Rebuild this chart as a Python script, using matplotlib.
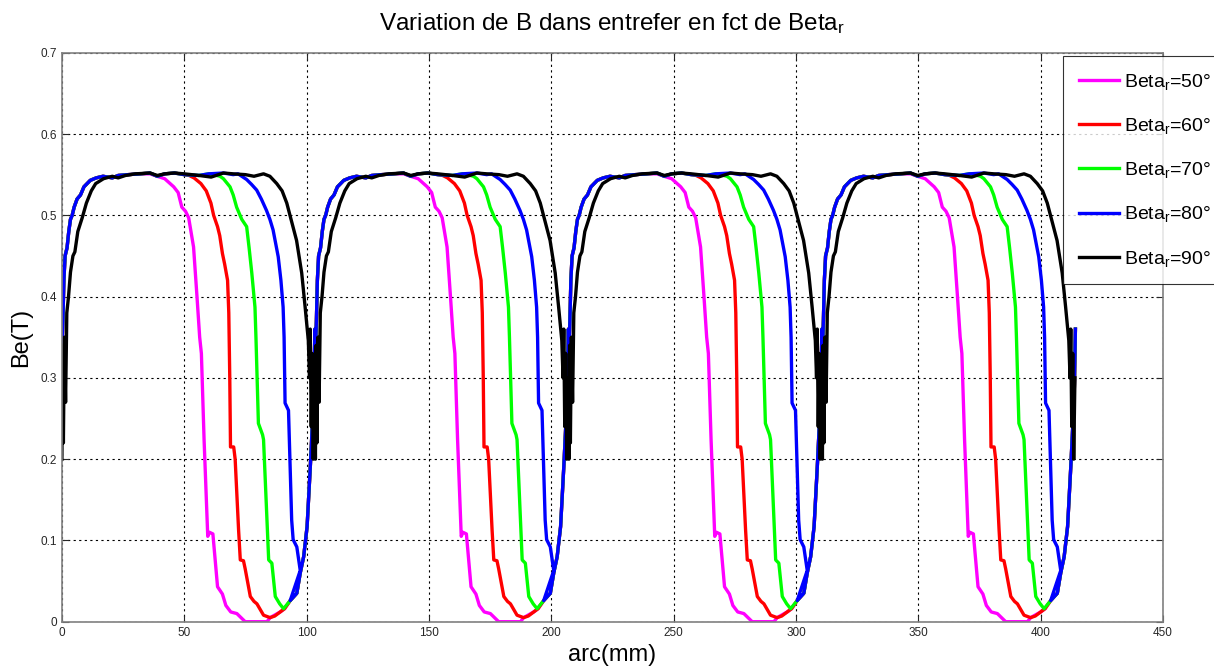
import numpy as np
import matplotlib
matplotlib.use('Agg')
import matplotlib.pyplot as plt

plt.rcParams['font.family'] = ['Liberation Sans', 'DejaVu Sans']
plt.rcParams['mathtext.fontset'] = 'custom'
plt.rcParams['mathtext.rm'] = 'Liberation Sans'
plt.rcParams['mathtext.it'] = 'Liberation Sans:italic'

# one pole pitch (mm); the 4 poles repeat the same profile
pitch = 103.6
n_poles = 4

# profiles over one pole pitch: position in pitch (mm) -> B (T)
rise_t = [0.0, 0.4, 0.8, 1.3, 2.1, 2.8, 3.5, 4.2, 5.0, 6.2, 7.6, 9.0, 11.6, 14.0,
          16.8, 20.6, 23.0, 27.0, 32.0]
rise_b = [0.33, 0.37, 0.42, 0.45, 0.46, 0.48, 0.495, 0.50, 0.51, 0.52, 0.525, 0.535,
          0.543, 0.546, 0.548, 0.546, 0.549, 0.550, 0.551]

tail_t = [93.3, 96.0, 97.4, 98.8, 100.2, 101.5, 102.9, 103.4]
tail_b = [0.026, 0.035, 0.060, 0.080, 0.117, 0.190, 0.277, 0.36]

b50_t = [36.0, 38.9, 42.0, 45.7, 47.5, 49.0, 50.5, 51.8, 53.0, 53.8, 55.2, 56.3, 57.0,
         58.1, 59.0, 59.6, 60.3, 61.7, 63.6, 65.6, 67.0, 69.0, 71.5, 74.9, 83.8, 85.1,
         89.2, 91.0]
b50_b = [0.551, 0.548, 0.545, 0.535, 0.528, 0.510, 0.505, 0.497, 0.475, 0.461, 0.400,
         0.350, 0.330, 0.224, 0.154, 0.105, 0.110, 0.108, 0.043, 0.034, 0.020, 0.012,
         0.010, 0.0, 0.0, 0.005, 0.012, 0.016]

b60_t = [36.0, 39.0, 42.0, 46.0, 50.0, 52.0, 54.0, 56.8, 59.0, 60.9, 62.0, 63.6, 64.5,
         65.6, 66.5, 67.7, 68.2, 68.6, 68.9, 70.2, 70.8, 72.2, 72.9, 74.2, 74.9, 77.0,
         78.5, 79.7, 82.4, 85.1, 87.0, 89.2, 91.0]
b60_b = [0.552, 0.548, 0.551, 0.552, 0.550, 0.549, 0.546, 0.539, 0.530, 0.515, 0.500,
         0.486, 0.475, 0.453, 0.440, 0.420, 0.380, 0.300, 0.215, 0.215, 0.200, 0.113,
         0.076, 0.075, 0.065, 0.031, 0.025, 0.022, 0.008, 0.005, 0.007, 0.012, 0.016]

b70_t = [36.0, 39.0, 42.0, 46.0, 50.0, 56.0, 60.0, 62.0, 64.6, 66.0, 68.7, 70.0, 71.4,
         73.5, 75.5, 76.5, 77.6, 78.9, 79.3, 79.6, 80.3, 82.0, 82.4, 83.1, 84.5, 85.8,
         87.2, 89.0, 90.6]
b70_b = [0.552, 0.548, 0.551, 0.552, 0.550, 0.549, 0.551, 0.550, 0.548, 0.545, 0.535,
         0.525, 0.510, 0.495, 0.486, 0.460, 0.429, 0.387, 0.350, 0.318, 0.244, 0.230,
         0.224, 0.174, 0.076, 0.072, 0.031, 0.022, 0.016]

b80_t = [36.0, 39.0, 42.0, 46.0, 50.0, 56.0, 60.0, 66.0, 70.0, 72.0, 75.5, 77.5, 79.6,
         81.5, 83.6, 85.0, 86.3, 88.4, 89.5, 90.4, 90.8, 91.2, 92.6, 93.9, 94.5, 96.0,
         97.4]
b80_b = [0.552, 0.548, 0.551, 0.552, 0.550, 0.549, 0.551, 0.552, 0.550, 0.551, 0.544,
         0.538, 0.531, 0.520, 0.506, 0.495, 0.482, 0.449, 0.420, 0.387, 0.350, 0.269,
         0.260, 0.125, 0.101, 0.092, 0.063]

b90_t = [0.0, 0.3, 0.6, 1.0, 1.5, 2.0, 2.7, 3.5, 4.5, 5.3, 6.5, 8.3, 10.0, 12.0, 13.8,
         17.0, 20.6, 23.0, 26.0, 30.0, 36.0, 39.0, 42.0, 46.0, 50.0, 56.0, 61.0, 66.0,
         70.0, 75.0, 78.5, 82.4, 85.0, 87.8, 90.0, 91.9, 93.9, 95.9, 98.0, 99.4, 100.7,
         101.2, 101.5, 101.9, 102.3, 102.7, 103.2]
b90_b = [0.20, 0.34, 0.22, 0.35, 0.27, 0.38, 0.40, 0.43, 0.45, 0.455, 0.48, 0.497,
         0.515, 0.530, 0.539, 0.545, 0.548, 0.546, 0.549, 0.551, 0.552, 0.549, 0.551,
         0.552, 0.551, 0.549, 0.547, 0.552, 0.551, 0.550, 0.548, 0.551, 0.548, 0.539,
         0.530, 0.515, 0.492, 0.469, 0.429, 0.387, 0.346, 0.30, 0.36, 0.24, 0.33, 0.20,
         0.30]

labels = ['Beta$_{\\mathrm{r}}$=50°', 'Beta$_{\\mathrm{r}}$=60°', 'Beta$_{\\mathrm{r}}$=70°',
          'Beta$_{\\mathrm{r}}$=80°', 'Beta$_{\\mathrm{r}}$=90°']
colors = ['#ff00ff', '#ff0000', '#00ff00', '#0000ff', '#000000']


def one_pole(t, b, with_rise=True, tail=True):
    tt = list(t)
    bb = list(b)
    if with_rise:
        tt = rise_t + tt
        bb = rise_b + bb
    if tail:
        tt = tt + tail_t
        bb = bb + tail_b
    return tt, bb


def all_poles(t, b):
    xs, ys = [], []
    for k in range(n_poles):
        xs.extend(np.array(t) + k * pitch)
        ys.extend(b)
    return np.array(xs), np.array(ys)


series = [one_pole(b50_t, b50_b), one_pole(b60_t, b60_b), one_pole(b70_t, b70_b),
          one_pole(b80_t, b80_b), one_pole(b90_t, b90_b, with_rise=False, tail=False)]

fig = plt.figure(figsize=(12.14, 6.69), dpi=100)
ax = fig.add_axes([0.051, 0.0707, 0.907, 0.8505])

for (t, b), c, lab in zip(series, colors, labels):
    x, y = all_poles(t, b)
    ax.plot(x, y, color=c, linewidth=2.4, label=lab)

ax.set_xlim(0, 450)
ax.set_ylim(0, 0.7)
ax.set_xticks(np.arange(0, 451, 50))
ax.set_yticks(np.arange(0, 0.71, 0.1))
ax.set_yticklabels(['0', '0.1', '0.2', '0.3', '0.4', '0.5', '0.6', '0.7'])
ax.grid(True, color='black', linestyle=(0, (2, 3)), linewidth=0.8)
ax.tick_params(direction='in', length=5, labelsize=8.5, colors='#262626',
               top=True, right=True)
for s in ax.spines.values():
    s.set_color('#808080')
    s.set_linewidth(1.2)

ax.set_xlabel('arc(mm)', fontsize=17, labelpad=4)
ax.set_ylabel('Be(T)', fontsize=17, labelpad=6)
ax.set_title('Variation de B dans entrefer en fct de Beta$_{\\mathrm{r}}$', fontsize=17.5, pad=16)

leg = ax.legend(loc='upper left', bbox_to_anchor=(1063 / 1214, 1 - 56 / 669),
                bbox_transform=fig.transFigure, fontsize=14, frameon=True, fancybox=False,
                edgecolor='black', handlelength=2.1, labelspacing=1.25, borderpad=0.8,
                handletextpad=0.25, borderaxespad=0)
leg.get_frame().set_linewidth(0.8)

fig.savefig('out.png', dpi=100)
